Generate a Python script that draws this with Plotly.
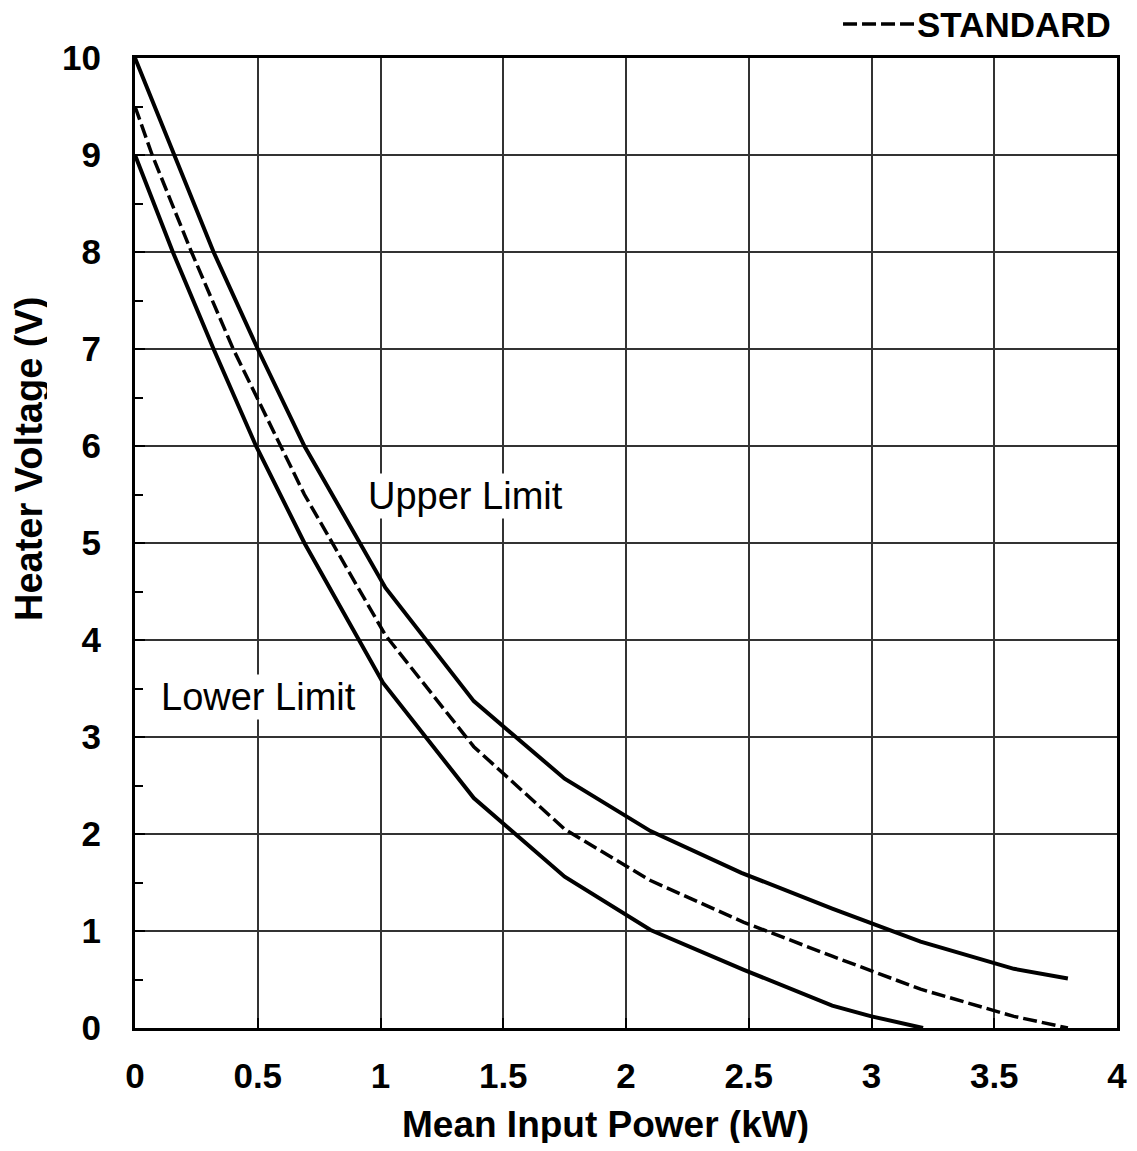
import plotly.graph_objects as go

upper_x = [0.0, 0.16, 0.32, 0.5, 0.69, 1.02, 1.38, 1.75, 2.1, 2.47, 2.84, 3.2, 3.58, 3.8]
upper_y = [10.0, 9.0, 8.0, 7.0, 6.0, 4.54, 3.37, 2.57, 2.03, 1.6, 1.23, 0.89, 0.61, 0.51]

std_x = [0.0, 0.07, 0.23, 0.4, 0.69, 1.02, 1.38, 1.75, 2.1, 2.48, 2.84, 3.2, 3.58, 3.8]
std_y = [9.5, 9.0, 8.0, 7.0, 5.5, 4.05, 2.9, 2.05, 1.52, 1.09, 0.74, 0.4, 0.12, 0.0]

lower_x = [0.0, 0.154, 0.32, 0.493, 0.69, 1.01, 1.38, 1.75, 2.1, 2.48, 2.84, 3.0, 3.21]
lower_y = [9.0, 8.0, 7.0, 6.0, 5.0, 3.56, 2.37, 1.56, 1.01, 0.6, 0.23, 0.12, 0.0]

x_ticks = [0, 0.5, 1, 1.5, 2, 2.5, 3, 3.5, 4]
x_labels = ["0", "0.5", "1", "1.5", "2", "2.5", "3", "3.5", "4"]
y_ticks = list(range(0, 11))

FONT = "Liberation Sans, Arial, sans-serif"
DASH = "14px,5px"

fig = go.Figure()
fig.add_trace(go.Scatter(x=upper_x, y=upper_y, mode="lines", name="Upper Limit",
                         line=dict(color="black", width=4), showlegend=False))
fig.add_trace(go.Scatter(x=std_x, y=std_y, mode="lines", name="STANDARD",
                         line=dict(color="black", width=3.5, dash=DASH), showlegend=False))
fig.add_trace(go.Scatter(x=lower_x, y=lower_y, mode="lines", name="Lower Limit",
                         line=dict(color="black", width=4), showlegend=False))

fig.add_annotation(x=1.348, y=5.485, text="Upper Limit", showarrow=False,
                   font=dict(family=FONT, size=38, color="black"), bgcolor="white")
fig.add_annotation(x=0.505, y=3.41, text="Lower Limit", showarrow=False,
                   font=dict(family=FONT, size=38, color="black"), bgcolor="white")

# legend key (dashed swatch + label) above the plot, right side
KEY_SHIFT = 34
KEY_Y = 1.0 + KEY_SHIFT / 970
fig.add_shape(type="line", xref="paper", yref="paper", x0=0.721, x1=0.7955, y0=KEY_Y, y1=KEY_Y,
              line=dict(color="black", width=3.5, dash=DASH))
fig.add_annotation(x=0.9959, y=1.0, xref="paper", yref="paper", yshift=KEY_SHIFT,
                   text="STANDARD", showarrow=False, xanchor="right", yanchor="middle", height=32,
                   font=dict(family=FONT, size=35, color="black", weight="bold"))

# axis titles
fig.add_annotation(x=0.4796, y=0, xref="paper", yref="paper", yshift=-96, height=38,
                   text="Mean Input Power (kW)", showarrow=False, xanchor="center", yanchor="middle",
                   font=dict(family=FONT, size=37, color="black", weight="bold"))
fig.add_annotation(x=0, y=0.5866, xref="paper", yref="paper", xshift=-106, height=36,
                   text="Heater Voltage (V)", showarrow=False, textangle=-90,
                   xanchor="center", yanchor="middle",
                   font=dict(family=FONT, size=38, color="black", weight="bold"))

fig.update_layout(
    width=1121, height=1135,
    margin=dict(l=127, r=12, t=50, b=115),
    paper_bgcolor="white", plot_bgcolor="white",
    font=dict(family=FONT, color="black"),
    showlegend=False,
)

fig.update_xaxes(
    range=[0, 4], tickvals=x_ticks, ticktext=x_labels, automargin=False,
    showgrid=True, gridcolor="#333333", gridwidth=1.5,
    showline=True, linecolor="black", linewidth=3, mirror=True,
    ticks="inside", ticklen=10, tickwidth=2, tickcolor="black",
    ticklabelstandoff=15,
    tickfont=dict(family=FONT, size=35, color="black", weight="bold"),
    zeroline=False,
)
fig.update_yaxes(
    range=[0, 10], tickvals=y_ticks, automargin=False,
    showgrid=True, gridcolor="#333333", gridwidth=1.5,
    showline=True, linecolor="black", linewidth=3, mirror=True,
    ticks="inside", ticklen=10, tickwidth=2, tickcolor="black",
    minor=dict(dtick=0.5, ticks="inside", ticklen=8, tickwidth=2, tickcolor="black", showgrid=False),
    ticklabelstandoff=24,
    tickfont=dict(family=FONT, size=35, color="black", weight="bold"),
    zeroline=False,
)

fig.write_html("out.html")
